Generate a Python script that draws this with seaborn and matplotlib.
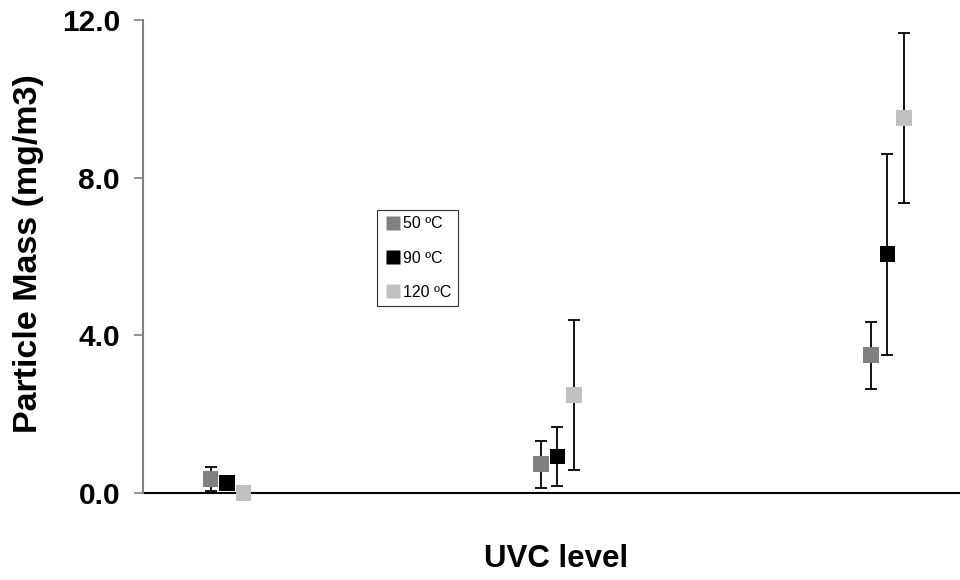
import numpy as np
import pandas as pd
import matplotlib
matplotlib.use("Agg")
import matplotlib.pyplot as plt
import seaborn as sns

groups = ["Low", "Medium", "High"]
series = ["50 ºC", "90 ºC", "120 ºC"]
vals_50 = [0.35, 0.73, 3.50]
err_50 = [0.30, 0.60, 0.85]
vals_90 = [0.25, 0.93, 6.06]
err_90 = [0.05, 0.75, 2.55]
vals_120 = [0.00, 2.48, 9.51]
err_120 = [0.00, 1.90, 2.16]
colors = ["#808080", "#000000", "#c0c0c0"]
yticks = [0.0, 4.0, 8.0, 12.0]

sns.set_style("white")
plt.rcParams['font.family'] = ['Liberation Sans', 'DejaVu Sans']
plt.rcParams['text.color'] = 'black'

rows = []
offsets = [-0.05, 0.0, 0.05]
for si, (s, v, e) in enumerate(zip(series, [vals_50, vals_90, vals_120], [err_50, err_90, err_120])):
    for gi, g in enumerate(groups):
        rows.append({"series": s, "x": gi + offsets[si], "value": v[gi], "err": e[gi]})
df = pd.DataFrame(rows)

fig = plt.figure(figsize=(9.6, 5.8), dpi=100)
ax = fig.add_axes([0.149, 0.15, 0.851, 0.8155])

for si, s in enumerate(series):
    sub = df[df.series == s]
    ax.errorbar(sub["x"], sub["value"], yerr=sub["err"], fmt="none",
                ecolor="black", elinewidth=1.3, capsize=4.5, capthick=1.3, zorder=3)

sns.scatterplot(data=df, x="x", y="value", hue="series", palette=colors,
                marker="s", s=125, edgecolor="none", ax=ax, zorder=4, legend=True,
                clip_on=False)

ax.set_xlim(-0.255, 2.22)
ax.set_ylim(0, 12)
ax.set_yticks(yticks)
ax.set_yticklabels([f"{t:.1f}" for t in yticks], fontsize=21.5, fontweight="bold", color="black")
ax.set_xticks([])
ax.tick_params(axis="y", direction="out", length=6.5, width=1.2, color="#808080", left=True, pad=10)
for sp in ["top", "right"]:
    ax.spines[sp].set_visible(False)
ax.spines["left"].set_color("#808080")
ax.spines["left"].set_linewidth(1.5)
ax.spines["bottom"].set_color("black")
ax.spines["bottom"].set_linewidth(1.5)
ax.spines["bottom"].set_position(("data", 0))
ax.spines["bottom"].set_zorder(2)

ax.set_xlabel("")
ax.set_ylabel("")
fig.text(0.579, 0.022, "UVC level", ha="center", va="baseline", fontsize=22.5,
         fontweight="bold", color="black")
fig.text(0.030, 0.562, "Particle Mass (mg/m3)", ha="center", va="center", rotation=90,
         fontsize=24.5, fontweight="bold", color="black")

handles, labels = ax.get_legend_handles_labels()
leg = ax.legend(handles, labels, loc="upper left", bbox_to_anchor=(0.393, 0.638),
                bbox_transform=fig.transFigure, frameon=True, fancybox=False,
                fontsize=11.5, handletextpad=0.0, borderpad=0.4, labelspacing=1.2,
                handlelength=1.2, markerscale=0.85, borderaxespad=0)
leg.get_frame().set_edgecolor("black")
leg.get_frame().set_linewidth(0.8)

fig.savefig("out.png", dpi=100)
